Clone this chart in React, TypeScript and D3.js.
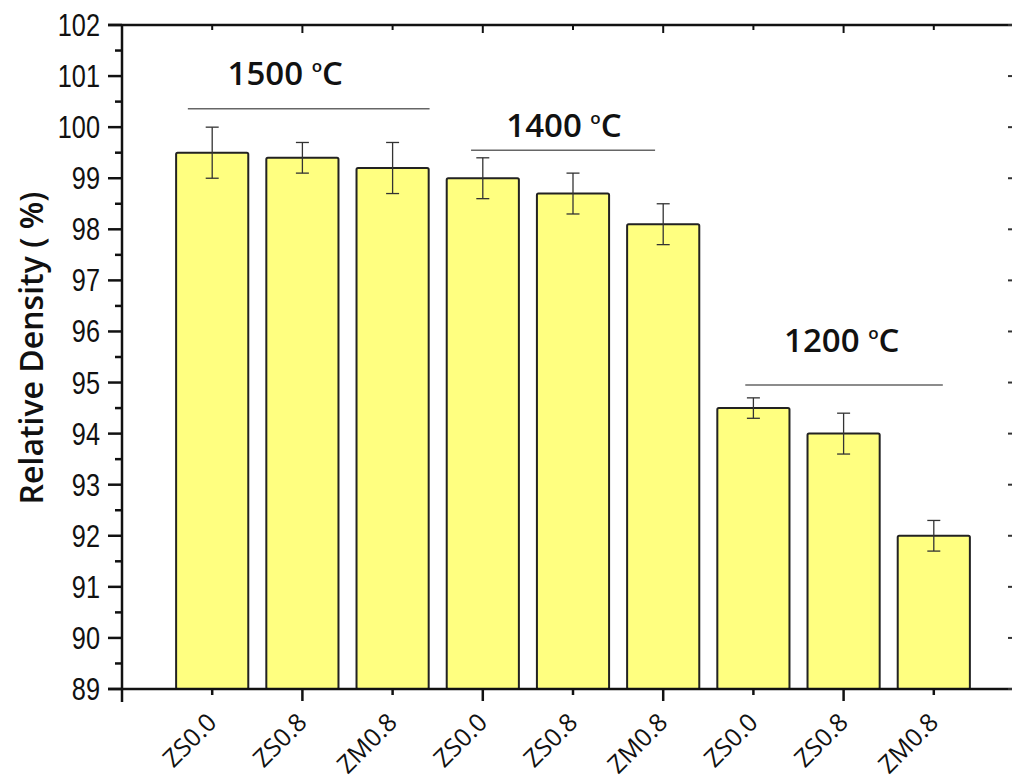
import React from 'react';
import * as d3 from 'd3';

// samples, left to right
const categories = ['ZS0.0', 'ZS0.8', 'ZM0.8', 'ZS0.0', 'ZS0.8', 'ZM0.8', 'ZS0.0', 'ZS0.8', 'ZM0.8'];
const density = [99.5, 99.4, 99.2, 99.0, 98.7, 98.1, 94.5, 94.0, 92.0];
const densityErr = [0.5, 0.3, 0.5, 0.4, 0.4, 0.4, 0.2, 0.4, 0.3];

// sintering temperature groups
const groupLabels = ['1500', '1400', '1200'];
// annotation placement in data units (x = category slot, y = density)
const groupAnno = [
  { tx: 1.81, ty: 100.83, x1: 0.73, x2: 3.41, ly: 100.36 },
  { tx: 4.90, ty: 99.81, x1: 3.87, x2: 5.91, ly: 99.55 },
  { tx: 7.98, ty: 95.6, x1: 6.91, x2: 9.10, ly: 94.95 },
];

const yTicks = d3.range(89, 103, 1);
const yMinor = d3.range(89.5, 102, 1);

const width = 1012;
const height = 778;

export default function App() {
  const left = 122, top = 25, bottom = 689;

  const y = d3.scaleLinear().domain([89, 102]).range([bottom, top]);
  const x = d3.scaleLinear().domain([0, 10]).range([left, 1024]);
  const barW = (x(1) - x(0)) * 0.8;

  const tickFont = '"Liberation Sans", Arial, sans-serif';
  const labelFont = '"Open Sans", "Noto Sans", sans-serif';

  return (
    <svg width={width} height={height} style={{ position: 'absolute', left: 0, top: 0, background: '#fff' }}>
      {/* bars */}
      {density.map((d, i) => (
        <rect key={'b' + i}
          x={x(i + 1) - barW / 2} y={y(d)}
          width={barW} height={y(89) - y(d)}
          rx={1.5}
          fill="#ffff80" stroke="#222" strokeWidth={2} />
      ))}

      {/* error bars */}
      {density.map((d, i) => {
        const cx = x(i + 1);
        const y1 = y(d + densityErr[i]), y2 = y(d - densityErr[i]);
        return (
          <g key={'e' + i} stroke="#333" strokeWidth={1.3}>
            <line x1={cx} x2={cx} y1={y1} y2={y2} />
            <line x1={cx - 6.5} x2={cx + 6.5} y1={y1} y2={y1} />
            <line x1={cx - 6.5} x2={cx + 6.5} y1={y2} y2={y2} />
          </g>
        );
      })}

      {/* group labels */}
      {groupLabels.map((label, i) => {
        const a = groupAnno[i];
        return (
          <g key={'g' + i}>
            <line x1={x(a.x1)} x2={x(a.x2)} y1={y(a.ly)} y2={y(a.ly)} stroke="#666" strokeWidth={1.5} />
            <text x={x(a.tx)} y={y(a.ty)} textAnchor="middle" fontFamily={labelFont}
              fontWeight={600} fontSize={33} fill="#111">
              {label} <tspan fontSize={17} dy={-13}>o</tspan><tspan dy={13}>C</tspan>
            </text>
          </g>
        );
      })}

      {/* frame */}
      <line x1={108} x2={width} y1={top} y2={top} stroke="#111" strokeWidth={2.5} />
      <line x1={108} x2={width} y1={bottom} y2={bottom} stroke="#111" strokeWidth={2.5} />
      <line x1={left} x2={left} y1={top} y2={702} stroke="#111" strokeWidth={2.5} />

      {/* y axis ticks */}
      {yTicks.map(t => (
        <g key={'yt' + t}>
          <line x1={108} x2={left} y1={y(t)} y2={y(t)} stroke="#111" strokeWidth={2.5} />
          <line x1={1008} x2={width} y1={y(t)} y2={y(t)} stroke="#333" strokeWidth={2} />
          <text transform={`translate(100,${y(t) + 11}) scale(0.83,1)`} textAnchor="end"
            fontFamily={tickFont} fontSize={30.5} fill="#111">{t}</text>
        </g>
      ))}
      {yMinor.map(t => (
        <line key={'ym' + t} x1={115} x2={left} y1={y(t)} y2={y(t)} stroke="#111" strokeWidth={2.5} />
      ))}

      {/* x axis ticks and labels */}
      {categories.map((c, i) => {
        const cx = x(i + 1);
        const len = i % 2 === 1 ? 12 : 6;
        return (
          <g key={'xt' + i}>
            <line x1={cx} x2={cx} y1={bottom} y2={bottom + len} stroke="#111" strokeWidth={2.5} />
            <line x1={cx} x2={cx} y1={top} y2={top + len / 2 + 2} stroke="#111" strokeWidth={2} />
            <text transform={`translate(${cx + 6},${bottom + 35}) rotate(-45)`} textAnchor="end"
              fontFamily={labelFont} fontWeight={400} fontSize={25} fill="#111">{c}</text>
          </g>
        );
      })}

      {/* y axis title */}
      <text transform={`translate(43,${(top + bottom) / 2 - 9}) rotate(-90)`} textAnchor="middle"
        fontFamily={labelFont} fontWeight={600} fontSize={32} fill="#111">Relative Density ( %)</text>
    </svg>
  );
}
